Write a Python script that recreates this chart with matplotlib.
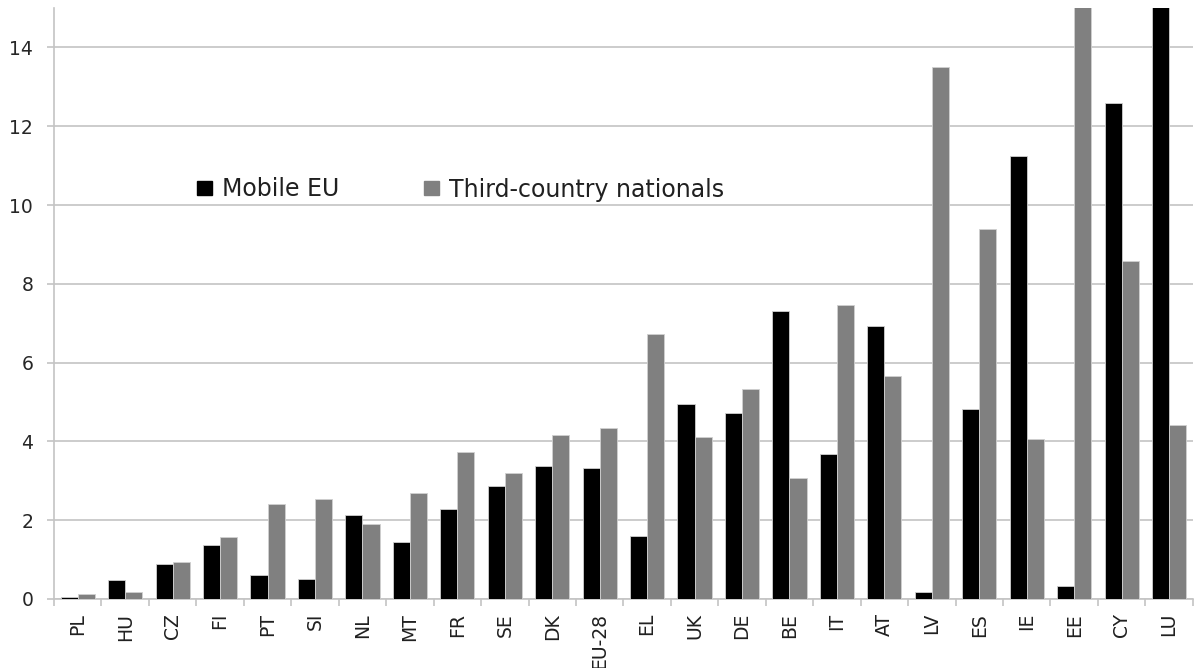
import numpy as np
import matplotlib
matplotlib.use('Agg')
import matplotlib.pyplot as plt
from matplotlib.patches import Patch

countries = ['PL', 'HU', 'CZ', 'FI', 'PT', 'SI', 'NL', 'MT', 'FR', 'SE', 'DK', 'EU-28',
             'EL', 'UK', 'DE', 'BE', 'IT', 'AT', 'LV', 'ES', 'IE', 'EE', 'CY', 'LU']
mobile_eu = [0.05, 0.48, 0.88, 1.37, 0.60, 0.52, 2.12, 1.45, 2.28, 2.88, 3.38, 3.33,
             1.60, 4.95, 4.72, 7.30, 3.67, 6.93, 0.17, 4.83, 11.25, 0.33, 12.58, 19.5]
third_country = [0.12, 0.17, 0.93, 1.57, 2.42, 2.55, 1.90, 2.70, 3.73, 3.20, 4.15, 4.35,
                 6.73, 4.12, 5.32, 3.08, 7.47, 5.67, 13.50, 9.38, 4.07, 16.0, 8.57, 4.42]
yticks = [0, 2, 4, 6, 8, 10, 12, 14]

plt.rcParams['font.family'] = ['DejaVu Sans']

fig = plt.figure(figsize=(12, 6.68), dpi=100)
ax = fig.add_axes([0.045, 0.1033, 0.949, 0.8847])

x = np.arange(len(countries))
w = 0.36
ax.bar(x - w / 2, mobile_eu, w, color='#000000', edgecolor='#d0d0d0', linewidth=0.6,
       label='Mobile EU', zorder=3)
ax.bar(x + w / 2, third_country, w, color='#808080', edgecolor='#d0d0d0', linewidth=0.6,
       label='Third-country nationals', zorder=3)

grid_c = '#c4c4c4'
ax.set_xlim(-0.5, len(countries) - 0.5)
ax.set_ylim(0, 15)
ax.set_yticks(yticks)
ax.set_yticklabels([str(v) for v in yticks], fontsize=13.5, color='#262626')
ax.tick_params(axis='y', length=5, width=1.2, color=grid_c, pad=10)
ax.yaxis.grid(True, color=grid_c, linewidth=1.2, zorder=0)

ax.set_xticks(x)
ax.set_xticklabels(countries, rotation=90, fontsize=13.5, color='#202020')
ax.tick_params(axis='x', which='major', length=0, pad=10)
ax.set_xticks(np.arange(-0.5, len(countries) + 0.5, 1), minor=True)
ax.tick_params(axis='x', which='minor', length=5, color=grid_c, width=1.2)

for side in ['top', 'right']:
    ax.spines[side].set_visible(False)
for side in ['left', 'bottom']:
    ax.spines[side].set_color(grid_c)
    ax.spines[side].set_linewidth(1.2)

handles = [Patch(color='#000000', label='Mobile EU'),
           Patch(color='#808080', label='Third-country nationals')]
leg = ax.legend(handles=handles, loc='center left', bbox_to_anchor=(197 / 1200, 1 - 189.5 / 668),
                bbox_transform=fig.transFigure, ncol=2, frameon=False, fontsize=17,
                handlelength=0.64, handleheight=0.55, handletextpad=0.42,
                columnspacing=3.6, borderpad=0, borderaxespad=0)
for t in leg.get_texts():
    t.set_color('#202020')

fig.savefig('out.png', dpi=100)
